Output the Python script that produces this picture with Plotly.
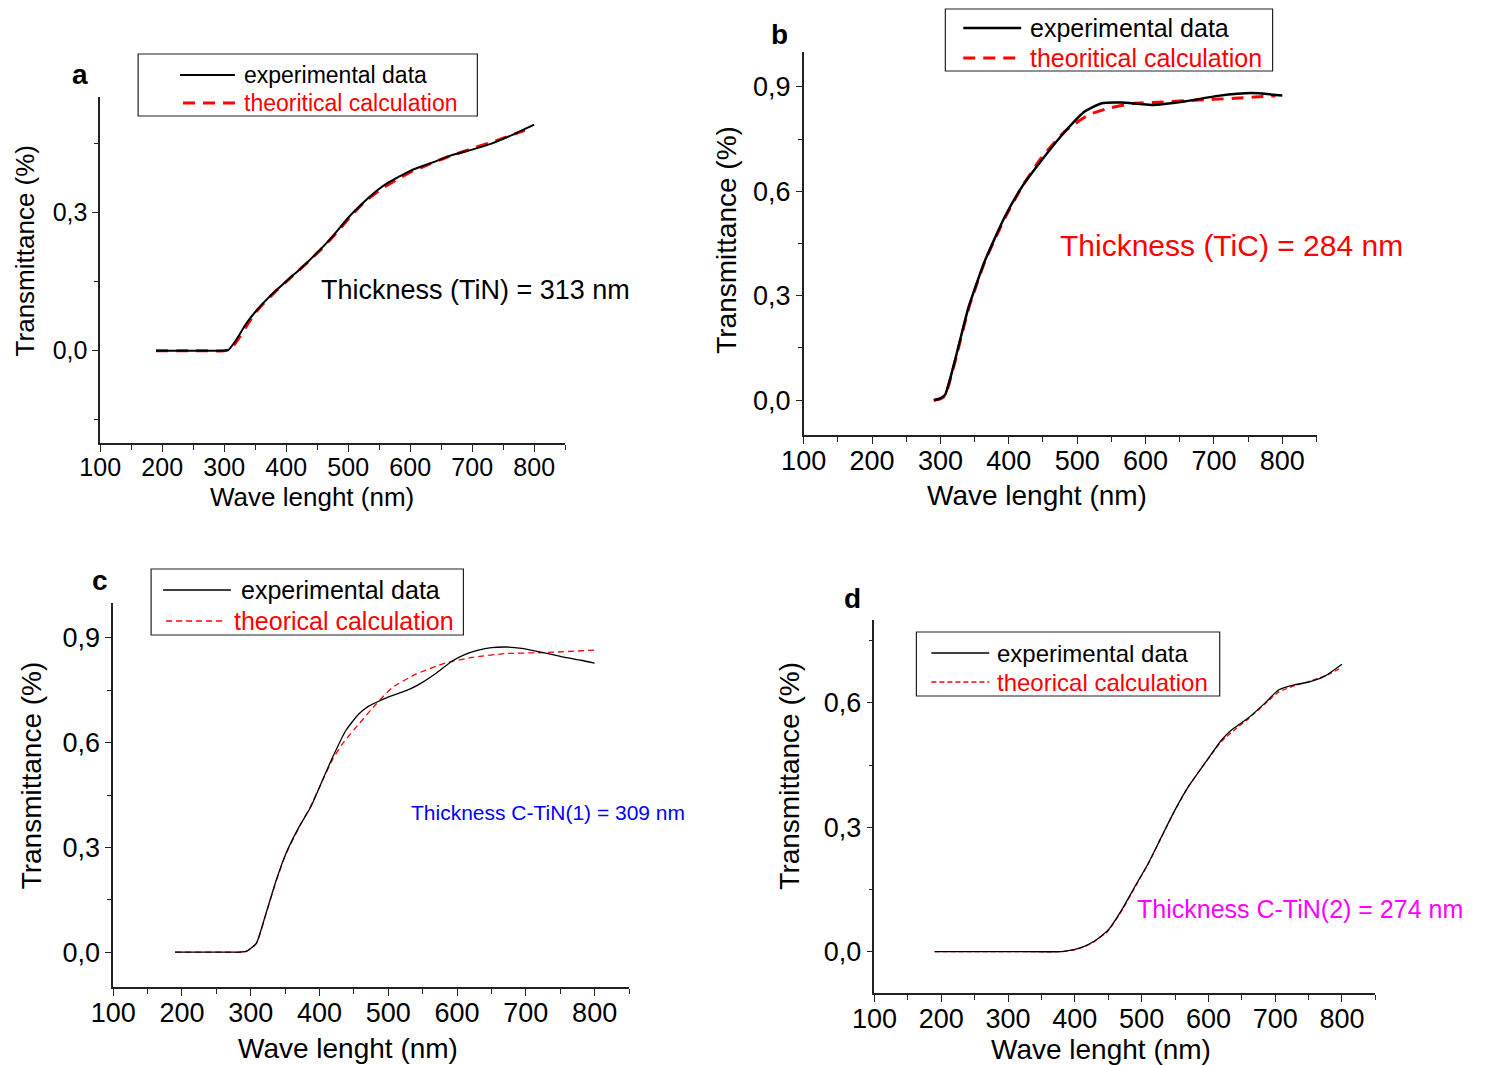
import plotly.graph_objects as go

W, H = 1486, 1065
FONT = "Liberation Sans, Arial, sans-serif"

# ---------------- data ----------------
a_exp_x = [190, 250, 300, 307, 320, 335, 350, 375, 402, 425, 448, 475, 501, 525, 547, 565, 580, 600, 619, 640, 665, 700, 731, 765, 800]
a_exp_y = [0, 0, 0, 0.002, 0.025, 0.058, 0.084, 0.12, 0.153, 0.18, 0.21, 0.248, 0.29, 0.322, 0.348, 0.365, 0.376, 0.39, 0.40, 0.41, 0.423, 0.436, 0.449, 0.468, 0.49]
a_theo_x = [190, 250, 300, 310, 325, 340, 355, 380, 405, 430, 455, 480, 505, 530, 555, 580, 605, 630, 660, 700, 740, 785]
a_theo_y = [0, 0, 0, 0.003, 0.03, 0.062, 0.09, 0.125, 0.156, 0.186, 0.218, 0.254, 0.293, 0.327, 0.352, 0.372, 0.39, 0.404, 0.42, 0.438, 0.456, 0.478]

b_exp_x = [291, 300, 307, 321, 341, 365, 394, 419, 448, 482, 511, 536, 565, 609, 657, 706, 755, 800]
b_exp_y = [0, 0.005, 0.016, 0.112, 0.266, 0.40, 0.526, 0.612, 0.689, 0.771, 0.829, 0.853, 0.855, 0.848, 0.858, 0.874, 0.882, 0.875]
b_theo_x = [290, 300, 307, 321, 341, 365, 394, 419, 448, 482, 516, 545, 584, 620, 657, 700, 730, 760, 790]
b_theo_y = [0, 0.004, 0.014, 0.108, 0.262, 0.398, 0.522, 0.612, 0.697, 0.772, 0.819, 0.838, 0.853, 0.856, 0.86, 0.864, 0.867, 0.871, 0.874]

c_exp_x = [190, 250, 280, 293, 308, 322, 337, 351, 370, 387, 404, 419, 438, 457, 471, 482, 498, 515, 532, 549, 571, 593, 612, 631, 650, 670, 694, 718, 737, 757, 780, 800]
c_exp_y = [0, 0, 0, 0.002, 0.025, 0.11, 0.206, 0.282, 0.358, 0.415, 0.491, 0.558, 0.634, 0.682, 0.704, 0.715, 0.729, 0.741, 0.754, 0.772, 0.801, 0.834, 0.853, 0.865, 0.872, 0.874, 0.870, 0.861, 0.853, 0.844, 0.836, 0.828]
c_theo_x = [190, 260, 293, 308, 322, 337, 351, 370, 387, 404, 419, 433, 457, 482, 506, 540, 583, 622, 670, 728, 800]
c_theo_y = [0, 0, 0.001, 0.024, 0.108, 0.204, 0.28, 0.356, 0.418, 0.49, 0.552, 0.596, 0.653, 0.71, 0.758, 0.796, 0.828, 0.844, 0.855, 0.858, 0.865]

d_exp_x = [190, 300, 380, 400, 415, 430, 450, 470, 490, 510, 530, 550, 570, 595, 620, 635, 660, 685, 705, 730, 750, 775, 800]
d_exp_y = [0, 0, 0, 0.005, 0.013, 0.026, 0.052, 0.10, 0.157, 0.213, 0.278, 0.342, 0.398, 0.455, 0.511, 0.535, 0.564, 0.60, 0.631, 0.644, 0.65, 0.665, 0.693]
d_theo_x = [190, 300, 382, 400, 415, 430, 450, 470, 490, 510, 530, 550, 570, 595, 620, 640, 660, 685, 705, 730, 755, 780, 800]
d_theo_y = [0, 0, 0, 0.004, 0.012, 0.025, 0.05, 0.098, 0.155, 0.212, 0.277, 0.341, 0.398, 0.455, 0.508, 0.536, 0.562, 0.598, 0.626, 0.642, 0.654, 0.669, 0.686]

exp_name = "experimental data"
theo_names = ["theoritical calculation", "theoritical calculation", "theorical calculation", "theorical calculation"]
thickness_texts = ["Thickness (TiN) = 313 nm", "Thickness (TiC) = 284 nm",
                   "Thickness C-TiN(1) = 309 nm", "Thickness C-TiN(2) = 274 nm"]
thickness_colors = ["black", "red", "blue", "magenta"]
panel_letters = ["a", "b", "c", "d"]
x_title = "Wave lenght (nm)"
y_title = "Transmittance (%)"

# ---------------- layout helpers ----------------
def px(x):
    # compensate for page offset of the rendered figure
    xc = x - (8 + 20 * (1 - x / W))
    return xc / W

def py(y):
    return 1 - (y - 8) / H

# panel geometry in pixels: x0, x1, ytop, ybottom
panels = [
    dict(x0=97, x1=563, yt=97, yb=443, yr=[-0.2, 0.55], tick=25),
    dict(x0=802, x1=1316, yt=52, yb=435, yr=[-0.1, 1.0], tick=27),
    dict(x0=110, x1=627, yt=603, yb=987, yr=[-0.1, 1.0], tick=27),
    dict(x0=873, x1=1375, yt=620, yb=993, yr=[-0.1, 0.8], tick=27),
]

series = [
    (a_exp_x, a_exp_y, a_theo_x, a_theo_y),
    (b_exp_x, b_exp_y, b_theo_x, b_theo_y),
    (c_exp_x, c_exp_y, c_theo_x, c_theo_y),
    (d_exp_x, d_exp_y, d_theo_x, d_theo_y),
]
exp_width = [2, 2.5, 1.3, 1.3]
theo_width = [3, 3, 1.3, 1.3]
theo_dash = ["12px,8px", "12px,8px", "6px,4px", "5px,3px"]

fig = go.Figure()
for i, (ex, ey, tx, ty) in enumerate(series):
    xa = "x" if i == 0 else f"x{i+1}"
    ya = "y" if i == 0 else f"y{i+1}"
    fig.add_trace(go.Scatter(x=tx, y=ty, xaxis=xa, yaxis=ya, mode="lines", name=theo_names[i],
                             line=dict(color="red", width=theo_width[i], dash=theo_dash[i], shape="spline", smoothing=0.5),
                             showlegend=False))
    fig.add_trace(go.Scatter(x=ex, y=ey, xaxis=xa, yaxis=ya, mode="lines", name=exp_name,
                             line=dict(color="black", width=exp_width[i], shape="spline", smoothing=0.5),
                             showlegend=False))

layout = dict(width=W, height=H, autosize=False, margin=dict(l=0, r=0, t=0, b=0),
              paper_bgcolor="white", plot_bgcolor="white", separators=",.",
              font=dict(family=FONT, color="black"))

for i, p in enumerate(panels):
    xk = "xaxis" if i == 0 else f"xaxis{i+1}"
    yk = "yaxis" if i == 0 else f"yaxis{i+1}"
    ya = "y" if i == 0 else f"y{i+1}"
    xa = "x" if i == 0 else f"x{i+1}"
    layout[xk] = dict(domain=[px(p["x0"]), px(p["x1"])], range=[100, 850], anchor=ya,
                      tick0=100, dtick=100, ticks="outside", ticklen=7, tickwidth=1.3, tickcolor="#222",
                      showline=True, linecolor="#222", linewidth=1.5, showgrid=False, zeroline=False,
                      ticklabelstandoff=-6,
                      tickfont=dict(size=p["tick"], family=FONT, color="black"),
                      minor=dict(dtick=50, ticks="outside", ticklen=5, tickwidth=1.2, tickcolor="#222", showgrid=False))
    layout[yk] = dict(domain=[py(p["yb"]), py(p["yt"])], range=p["yr"], anchor=xa,
                      tick0=0, dtick=0.3, tickformat=".1f", ticks="outside", ticklen=6, tickwidth=1.3, tickcolor="#222",
                      showline=True, linecolor="#222", linewidth=1.5, showgrid=False, zeroline=False,
                      tickfont=dict(size=p["tick"], family=FONT, color="black"),
                      minor=dict(dtick=0.15, ticks="outside", ticklen=4, tickwidth=1.2, tickcolor="#222", showgrid=False))

annotations = []
shapes = []

def ann(text, x, y, size, color="black", angle=0, xanchor="center", bold=False):
    annotations.append(dict(text=f"<b>{text}</b>" if bold else text, x=px(x), y=py(y), xref="paper", yref="paper",
                            xanchor=xanchor, yanchor="middle", showarrow=False, textangle=angle,
                            font=dict(family=FONT, size=size, color=color)))

# axis titles (x, y pixel centres)
xt = [(309, 497, 26), (1036, 495, 28), (345, 1048, 28), (1100, 1049, 28)]
yt = [(22, 251, 26), (725, 240, 28), (28, 775, 28), (787, 776, 28)]
for (x, y, s) in xt:
    ann(x_title, x, y, s)
for (x, y, s) in yt:
    ann(y_title, x, y, s, angle=-90)

# thickness labels (left x, centre y)
th = [(316, 290, 27), (1057, 246, 30), (406, 812, 21), (1134, 909, 25)]
for i, (x, y, s) in enumerate(th):
    ann(thickness_texts[i], x, y, s, color=thickness_colors[i], xanchor="left")

# panel letters
letters = [(77, 75), (778, 35), (97, 580), (851, 598)]
for i, (x, y) in enumerate(letters):
    ann(panel_letters[i], x, y, 28, bold=True)

# legends: box, rows
legends = [
    dict(box=(135, 54, 475, 116), r1=75, r2=103, l1=(177, 232), l2=(180, 235), tx=239, tx1=239, fs=23),
    dict(box=(944, 9, 1272, 71), r1=28, r2=58, l1=(962, 1020), l2=(962, 1020), tx=1027, tx1=1027, fs=25),
    dict(box=(148, 569, 461, 635), r1=590, r2=621, l1=(160, 228), l2=(163, 222), tx=229, tx1=236, fs=25),
    dict(box=(915, 632, 1219, 696), r1=653, r2=682, l1=(930, 988), l2=(930, 988), tx=994, tx1=994, fs=24),
]
for i, L in enumerate(legends):
    x0, y0, x1, y1 = L["box"]
    shapes.append(dict(type="rect", xref="paper", yref="paper", x0=px(x0), x1=px(x1), y0=py(y1), y1=py(y0),
                       line=dict(color="#222", width=1.2), fillcolor="rgba(0,0,0,0)"))
    shapes.append(dict(type="line", xref="paper", yref="paper", x0=px(L["l1"][0]), x1=px(L["l1"][1]),
                       y0=py(L["r1"]), y1=py(L["r1"]), line=dict(color="black", width=exp_width[i])))
    shapes.append(dict(type="line", xref="paper", yref="paper", x0=px(L["l2"][0]), x1=px(L["l2"][1]),
                       y0=py(L["r2"]), y1=py(L["r2"]), line=dict(color="red", width=theo_width[i], dash=theo_dash[i])))
    ann(exp_name, L["tx1"], L["r1"], L["fs"], xanchor="left")
    ann(theo_names[i], L["tx"], L["r2"], L["fs"], color="red", xanchor="left")

layout["annotations"] = annotations
layout["shapes"] = shapes
fig.update_layout(**layout)
fig.write_html("out.html")
